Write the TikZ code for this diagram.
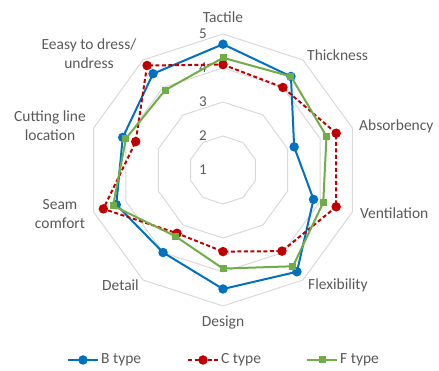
\documentclass[tikz,border=0pt]{standalone}
\usepackage{fontspec}
\setmainfont{Carlito}
\usepackage{xcolor}
\usetikzlibrary{arrows.meta,positioning}
\definecolor{btype}{RGB}{0,112,192}
\definecolor{ctype}{RGB}{192,0,0}
\definecolor{ftype}{RGB}{112,173,71}
\definecolor{ringgray}{RGB}{217,217,217}
\definecolor{labgray}{RGB}{89,89,89}

\begin{document}
\begin{tikzpicture}[
  x=1pt, y=1pt,
  ring/.style={draw=ringgray, line width=1pt},
  tick/.style={font=\fontsize{15}{18}\selectfont, text=labgray, inner sep=0pt},
  axis/.style={font=\fontsize{15.5}{19}\selectfont, text=labgray,
    align=center, inner sep=0pt},
  bline/.style={draw=btype, line width=2pt, line join=round},
  cline/.style={draw=ctype, line width=2pt, dash pattern=on 4pt off 2.5pt},
  fline/.style={draw=ftype, line width=2pt, line join=round},
  bdot/.style={circle, fill=btype, inner sep=0pt, minimum size=9.5pt},
  cdot/.style={circle, fill=ctype, inner sep=0pt, minimum size=9.5pt},
  fsq/.style={rectangle, fill=ftype, inner sep=0pt, minimum size=7pt},
  legtext/.style={font=\fontsize{15.5}{18}\selectfont, text=labgray, inner sep=0pt}
]
  \useasboundingbox (0,0) rectangle (439,371);
  \begin{scope}[shift={(223,201)}]
    % rings for 2..5
    \foreach \r in {34,68,102,136}
      \draw[ring] (90:\r) \foreach \k in {1,...,9} {-- ({90-36*\k}:\r)} -- cycle;
    \foreach \v in {1,...,5}
      \node[tick] (tick\v) at (-20,{(\v-1)*34}) {\v};

    % axis labels
    \node[axis] (tactile) at (0,153) {Tactile};
    \node[axis, anchor=west] (thick) at (84,115) {Thickness};
    \node[axis, anchor=west] (absorb) at (136,44) {Absorbency};
    \node[axis, anchor=west] (vent) at (137,-43) {Ventilation};
    \node[axis, anchor=west] (flex) at (85,-115) {Flexibility};
    \node[axis] (design) at (0,-153) {Design};
    \node[axis, anchor=east] (detail) at (-84,-115) {Detail};
    \node[axis] (seam) at (-163,-44) {Seam\\comfort};
    \node[axis] (cutting) at (-173,44) {Cutting line\\location};
    \node[axis] (dress) at (-134,116) {Eeasy to dress/\\undress};

    % data points
    \foreach \v [count=\k from 0] in {4.7,4.4,3.2,3.8,4.7,4.5,4.0,4.3,4.1,4.5}
      \coordinate (B\k) at ({90-36*\k}:{(\v-1)*34});
    \foreach \v [count=\k from 0] in {4.1,4.0,4.5,4.5,3.95,3.4,3.3,4.7,3.7,4.8}
      \coordinate (C\k) at ({90-36*\k}:{(\v-1)*34});
    \foreach \v [count=\k from 0] in {4.3,4.4,4.2,4.1,4.5,3.9,3.4,4.4,4.0,3.9}
      \coordinate (F\k) at ({90-36*\k}:{(\v-1)*34});

    \draw[bline] (B0) \foreach \k in {1,...,9} {-- (B\k)} -- cycle;
    \foreach \k in {0,...,9} \node[bdot] (bm\k) at (B\k) {};
    \draw[cline] (C0) \foreach \k in {1,...,9} {-- (C\k)} -- cycle;
    \foreach \k in {0,...,9} \node[cdot] (cm\k) at (C\k) {};
    \draw[fline] (F0) \foreach \k in {1,...,9} {-- (F\k)} -- cycle;
    \foreach \k in {0,...,9} \node[fsq] (fm\k) at (F\k) {};

    % legend
    \coordinate (bl1) at (-155,-190);
    \coordinate (bl2) at (-125,-190);
    \draw[bline] (bl1) -- (bl2);
    \node[bdot] (blm) at (-140,-190) {};
    \node[legtext, right=3pt of bl2] (blab) {B type};
    \coordinate (cl1) at (-35,-190);
    \coordinate (cl2) at (-5,-190);
    \draw[cline] (cl1) -- (cl2);
    \node[cdot] (clm) at (-20,-190) {};
    \node[legtext, right=3pt of cl2] (clab) {C type};
    \coordinate (fl1) at (84,-190);
    \coordinate (fl2) at (114,-190);
    \draw[fline] (fl1) -- (fl2);
    \node[fsq] (flm) at (99,-190) {};
    \node[legtext, right=3pt of fl2] (flab) {F type};
  \end{scope}
\end{tikzpicture}
\end{document}
